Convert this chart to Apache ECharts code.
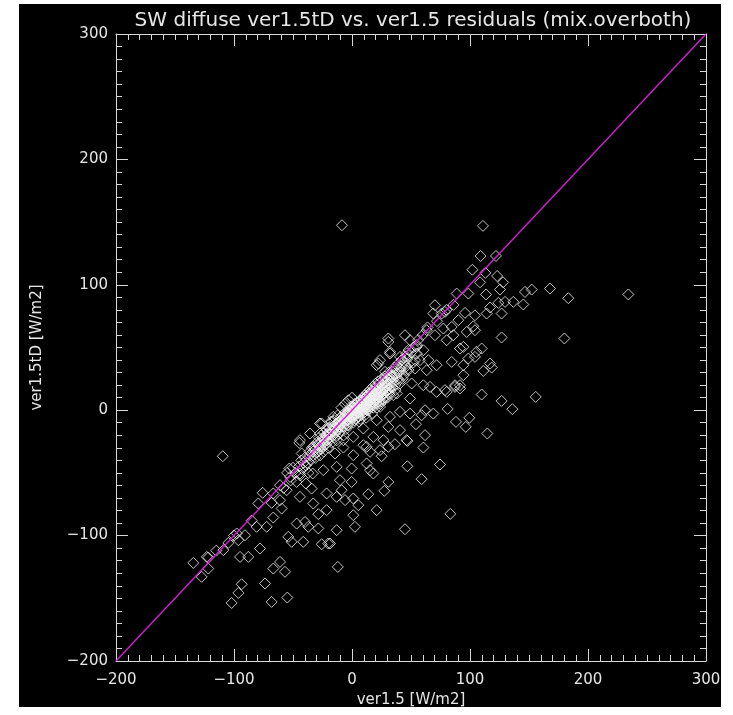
<!DOCTYPE html>
<html>
<head>
<meta charset="utf-8">
<title>SW diffuse residuals</title>
<script src="https://cdn.jsdelivr.net/npm/echarts@6/dist/echarts.min.js"></script>
<style>
  html, body { margin: 0; padding: 0; background: #fff; }
  #panel { position: absolute; left: 19px; top: 4px; width: 702px; height: 703px; background: #000; }
  #chart { position: absolute; left: 0; top: 0; width: 733px; height: 715px; }
</style>
</head>
<body>
<div id="panel"></div>
<div id="chart"></div>
<script>
const titleText = 'SW diffuse ver1.5tD vs. ver1.5 residuals (mix.overboth)';
const xName = 'ver1.5 [W/m2]';
const yName = 'ver1.5tD [W/m2]';
const axisMin = -200;
const axisMax = 300;
const axisStep = 100;

// 1:1 reference line
const diagonal = [[-200, -200], [300, 300]];

// scattered points above zero (x > ~20)
const upperPoints = [
  [-8.5, 147.5], [111, 147], [109, 123], [122, 123],
  [102, 112], [113, 109.5], [123, 107], [128, 102], [108.5, 102], [113.6, 92.3], [98.6, 93], [88.7, 93], [125.4, 96.2],
  [146.6, 94.3], [152.3, 96.2], [167.8, 97], [183.3, 89.3], [234.2, 92.3], [145.2, 84.3], [180, 57.2], [155.7, 10.6],
  [136.7, 86.4], [129.7, 86.4], [124, 85.6], [117, 81.9], [114.1, 77.1], [126.8, 77.1], [95.8, 77.6], [104.2, 75.7],
  [90.1, 71.8], [70.3, 83.7], [68.9, 77.1], [78.8, 78.4], [84.5, 66.4], [102.8, 66.9], [97.2, 62.4], [104.2, 63.8],
  [126.8, 58], [77.4, 65.1], [85.9, 59.8], [80.2, 55.8], [109.9, 49.2], [105.4, 46.5], [91.5, 49.2], [94.4, 50.5],
  [98.6, 41.2], [84.5, 38.5], [94.4, 35.9], [117, 37.2], [118.4, 34], [111.3, 31.3], [104.2, 42.5], [94.4, 27.9],
  [64.7, 39.9], [71.7, 35.9], [57.6, 39.9], [54.8, 45.2], [53.4, 33.2], [63.3, 31.9], [87.3, 19.9], [91.5, 17.3],
  [78.8, 16], [71.7, 14.6], [66.1, 18.6], [60.5, 19.9], [68.9, -2.7], [61.9, 0], [59, -4],
  [109.9, 12.5], [126.8, 7.4], [135.9, 0.8], [81.1, 1], [88.1, -9.3], [99.4, -6.1], [96.4, -13.3], [114.7, -18.6],
  [74.6, -43.3], [83.3, -82.7], [87.3, 18.6], [91.5, 19.9], [80.3, 14.6],
  [76, 77.1], [63.3, 63.8], [70.3, 59.8], [54.8, 50.5], [60.5, 47.8], [30.8, 57.2], [44.9, 59.8], [49.2, 55.8],
  [23.7, 39.9], [32.2, 46.5], [20.9, 35.9], [46.3, 45.2], [53.4, 39.9],
  [48, 48], [52, 50], [56, 56], [60, 60], [64, 66], [72, 71], [80, 80], [86, 84]
];

// points below the core, x between ~-20 and 60
const lowerMidPoints = [
  [54.2, -11.2], [61.9, -19.9], [46.9, -24.5], [60.5, -29.8], [36.4, -27.1], [30.8, -29.2], [25.1, -36.7], [15.3, -33.2],
  [46.9, -44.7], [59, -55], [30.8, -57.2], [27.4, -64.3], [13.8, -67], [20.9, -79.7], [44.9, -94.9], [2.5, -93],
  [1.1, -83.7], [-13, -95.7], [5.4, -75.8], [1.1, -70.4], [-5.9, -71.7], [-13, -69.1], [-0.3, -57.2], [-10.2, -55.8],
  [-8.8, -63.8], [-13, -45.2], [-0.3, -46.5], [15.3, -47.8], [18.1, -50.5], [12.4, -42.5], [1.1, -35.9], [-7.3, -29.8],
  [9.6, -27.9], [-14.4, -34.5], [-12, -125], [-18.6, -106.3]
];

// lower left tail
const lowerLeftPoints = [
  [-109.5, -36.7], [-44.7, -26.1], [-53.1, -46.5], [-44.1, -50.5], [-33.3, -50.5], [-24.3, -47.8], [-75.7, -65.9],
  [-79.4, -74.4], [-68.1, -73.9], [-61, -71.8], [-55.4, -63.8], [-46.9, -57.2], [-39, -58.5], [-44.1, -69.1],
  [-34.2, -62.5], [-21.5, -66.4], [-32.8, -74.4], [-21.5, -79.7], [-28.5, -82.9], [-66.7, -85.6], [-59.6, -78.4],
  [-80.8, -93], [-72.3, -93], [-46.9, -90.4], [-39.8, -89.1], [-37, -93], [-28.5, -94.3], [-54, -101], [-51.1, -105],
  [-41.3, -105], [-25.7, -106.9], [-20.1, -106.3], [-90.7, -99.7], [-97.7, -98.3], [-96.3, -103.7], [-104.8, -105.8],
  [-109, -111.6], [-78, -110.3], [-94.9, -117], [-87.9, -117], [-134.5, -121.8], [-121.8, -117.5], [-121.8, -126.3],
  [-127.4, -132.9], [-61, -121], [-66.7, -126.3], [-56.8, -128.9], [-93.5, -138.8], [-96.3, -145.7], [-102, -153.7],
  [-73.7, -138.2], [-68.1, -152.9], [-54.8, -149.4],
  [-66.7, -66.4], [-52.5, -53.2], [-61, -59.8], [-85, -88], [-100, -100], [-115, -112], [-123, -117]
];

// ring of points around the dense core
const ringPoints = [
  [30.8, 54.5], [22.3, 37.2], [32.2, 45.2], [40.7, 42.5], [28, 30.6], [37.9, 29.2], [46.3, 31.9], [50.6, 21.3],
  [40.7, 21.3], [37.9, 13.3], [49.2, 9.3], [40.7, -1.3], [49.2, -2.7], [32.2, -5.3], [23.7, 2.7], [20.9, -8],
  [30.8, -13.3], [40.7, -15.9], [46.3, -23.9], [26.6, -23.9], [18.1, -21.3], [12.4, -29.2], [23.7, -31.9], [9.6, -14.6],
  [1.1, -21.3], [-7.3, -23.9], [-27.1, -10.6], [-27.1, -18.6], [-35.6, -18.6], [-44.1, -23.9], [-17.2, -9.3],
  [-21.5, -15.9], [-32.8, -29.2], [-42.6, -34.5], [-25.7, -10.6], [-15.8, -5.3]
];

// dense core near the origin
const corePoints = [
  [-40, -38], [-38, -42], [-36, -33], [-35, -40], [-33, -36], [-32, -30], [-30, -34], [-29, -27], [-28, -31], [-27, -36],
  [-26, -25], [-25, -29], [-24, -33], [-23, -22], [-22, -27], [-21, -24], [-20, -30], [-19, -19], [-18, -23], [-18, -16],
  [-17, -26], [-16, -20], [-15, -14], [-15, -22], [-14, -18], [-13, -12], [-13, -24], [-12, -15], [-11, -9], [-11, -19],
  [-10, -13], [-10, -6], [-9, -16], [-8, -10], [-8, -4], [-7, -20], [-7, -13], [-6, -7], [-6, -2], [-5, -11], [-5, -15],
  [-4, -4], [-4, -8], [-3, 0], [-3, -12], [-2, -5], [-2, -9], [-1, -2], [-1, 3], [0, -6], [0, -1], [1, -10], [1, 2],
  [2, -3], [2, 5], [3, -7], [3, 1], [4, -1], [4, 6], [5, -5], [5, 2], [6, -9], [6, 4], [7, 0], [7, 8], [8, -4], [8, 5],
  [9, 2], [9, 10], [10, -2], [10, 6], [11, 12], [11, 3], [12, -6], [12, 8], [13, 5], [13, 14], [14, 0], [14, 10],
  [15, 7], [15, 16], [16, 3], [16, 12], [17, -3], [17, 9], [18, 15], [18, 19], [19, 6], [20, 12], [20, 21], [21, 2],
  [21, 17], [22, 9], [22, 23], [23, 14], [24, 19], [24, 5], [25, 25], [25, 11], [26, 17], [27, 22], [27, 8], [28, 27],
  [28, 14], [29, 20], [30, 25], [30, 10], [31, 30], [32, 17], [33, 23], [34, 31], [35, 12], [35, 27], [36, 34], [37, 20],
  [38, 29], [39, 37], [40, 24], [41, 33], [42, 40], [44, 28], [45, 36], [46, 43], [48, 32], [50, 46], [52, 38], [55, 52],
  [-45, -45], [-48, -50], [-50, -46], [-52, -56], [-55, -50], [-58, -62], [-44, -52], [-42, -47], [-39, -44], [-37, -50],
  [-12, -4], [-9, 2], [-6, 5], [-3, 8], [0, 10], [-15, -8], [-20, -14], [-24, -18], [-28, -22], [-18, -9]
];

// more of the core, filling the solid white band
const coreFill = [
  [-30, -26], [-27, -29], [-25, -22], [-22, -20], [-20, -23], [-19, -14], [-17, -17], [-16, -13], [-14, -11], [-13, -16],
  [-12, -10], [-11, -13], [-10, -9], [-9, -11], [-9, -7], [-8, -13], [-7, -6], [-6, -10], [-5, -3], [-5, -8], [-4, -12],
  [-3, -5], [-3, -2], [-2, -1], [-2, -7], [-1, -5], [-1, 0], [0, 2], [0, -4], [1, -2], [1, -6], [2, 0], [2, -8], [3, 4],
  [3, -4], [4, 2], [4, -6], [5, 6], [5, -2], [6, 1], [6, -5], [7, 3], [7, -7], [8, 8], [8, 1], [9, -1], [9, 5], [10, 9],
  [10, 2], [11, 7], [11, -4], [12, 11], [12, 3], [13, 9], [13, 0], [14, 13], [14, 6], [15, 3], [15, 11], [16, 15],
  [16, 8], [17, 13], [17, 5], [18, 10], [18, 2], [19, 17], [19, 12], [20, 8], [20, 16], [21, 13], [21, 20], [22, 17],
  [22, 5], [23, 21], [23, 10], [24, 14], [25, 20], [25, 7], [26, 24], [26, 13], [27, 17], [28, 21], [28, 10], [29, 26],
  [30, 16], [30, 21], [31, 24], [32, 13], [32, 28], [33, 19], [34, 26], [35, 22], [36, 29], [37, 16], [38, 33], [39, 25],
  [40, 30], [42, 35], [43, 25], [44, 39], [46, 35], [47, 41], [-34, -30], [-31, -38], [-29, -33], [-26, -31], [-23, -28],
  [-21, -19], [-36, -36], [-41, -42], [-43, -40]
];

const coreFill2 = [
  [-6, -4], [-4, -2], [-2, -3], [0, 0], [1, -4], [2, 2], [3, -2], [4, 0], [5, 4], [6, -2], [6, 7], [7, 2], [8, -1],
  [8, 3], [9, 7], [10, 0], [10, 4], [11, 9], [11, 1], [12, 5], [13, 2], [13, 11], [14, 8], [14, 3], [15, 13], [16, 10],
  [16, 5], [17, 7], [18, 12], [18, 4], [19, 14], [19, 9], [20, 5], [21, 10], [21, 15], [22, 12], [23, 18], [23, 7],
  [24, 16], [24, 11], [25, 14], [26, 20], [26, 9], [27, 13], [28, 18], [29, 15], [29, 23], [30, 19], [31, 14], [32, 21],
  [33, 27], [34, 18], [-8, -7], [-10, -11], [-12, -12], [-14, -14], [-16, -17], [-18, -19], [-20, -19], [-22, -24],
  [-24, -24], [-26, -28], [-28, -27], [-31, -31], [-33, -33]
];

const allPoints = [].concat(upperPoints, lowerMidPoints, lowerLeftPoints, ringPoints, corePoints, coreFill, coreFill2);

const fontFamily = 'DejaVu Sans';
const fg = '#e6e6e6';
const minus = v => String(v).replace('-', '\u2212');

function makeAxis(pos, showLabels, name) {
  return {
    type: 'value',
    position: pos,
    min: axisMin,
    max: axisMax,
    interval: axisStep,
    name: name || '',
    nameLocation: 'middle',
    nameGap: pos === 'left' ? 71 : 30,
    nameRotate: pos === 'left' ? 90 : 0,
    nameTextStyle: { color: fg, fontSize: 15, fontFamily: fontFamily },
    axisLine: { show: true, onZero: false, lineStyle: { color: '#d8d8d8', width: 1 } },
    axisTick: { show: true, inside: true, length: 12, lineStyle: { color: '#d8d8d8', width: 1 } },
    minorTick: { show: true, splitNumber: 10, length: 6, lineStyle: { color: '#d8d8d8', width: 1 } },
    splitLine: { show: false },
    axisLabel: {
      show: showLabels,
      color: fg,
      fontSize: 15,
      fontFamily: fontFamily,
      margin: pos === 'left' ? 8 : 12,
      formatter: minus
    }
  };
}

const chart = echarts.init(document.getElementById('chart'), null, { renderer: 'canvas' });

chart.setOption({
  animation: false,
  backgroundColor: 'transparent',
  title: {
    text: titleText,
    left: 408,
    top: 6,
    textAlign: 'center',
    textStyle: { color: fg, fontSize: 20, fontWeight: 'normal', fontFamily: fontFamily }
  },
  grid: { left: 116, right: 27, top: 34, bottom: 54 },
  xAxis: [makeAxis('bottom', true, xName), makeAxis('top', false)],
  yAxis: [makeAxis('left', true, yName), makeAxis('right', false)],
  series: [
    {
      type: 'scatter',
      xAxisIndex: 0,
      yAxisIndex: 0,
      data: allPoints,
      symbol: 'diamond',
      symbolSize: [11, 11],
      itemStyle: { color: 'transparent', borderColor: '#f0f0f0', borderWidth: 1 },
      z: 2
    },
    {
      type: 'line',
      xAxisIndex: 0,
      yAxisIndex: 0,
      data: diagonal,
      showSymbol: false,
      lineStyle: { color: '#d81ed8', width: 1.3 },
      z: 3
    }
  ]
});
</script>
</body>
</html>
